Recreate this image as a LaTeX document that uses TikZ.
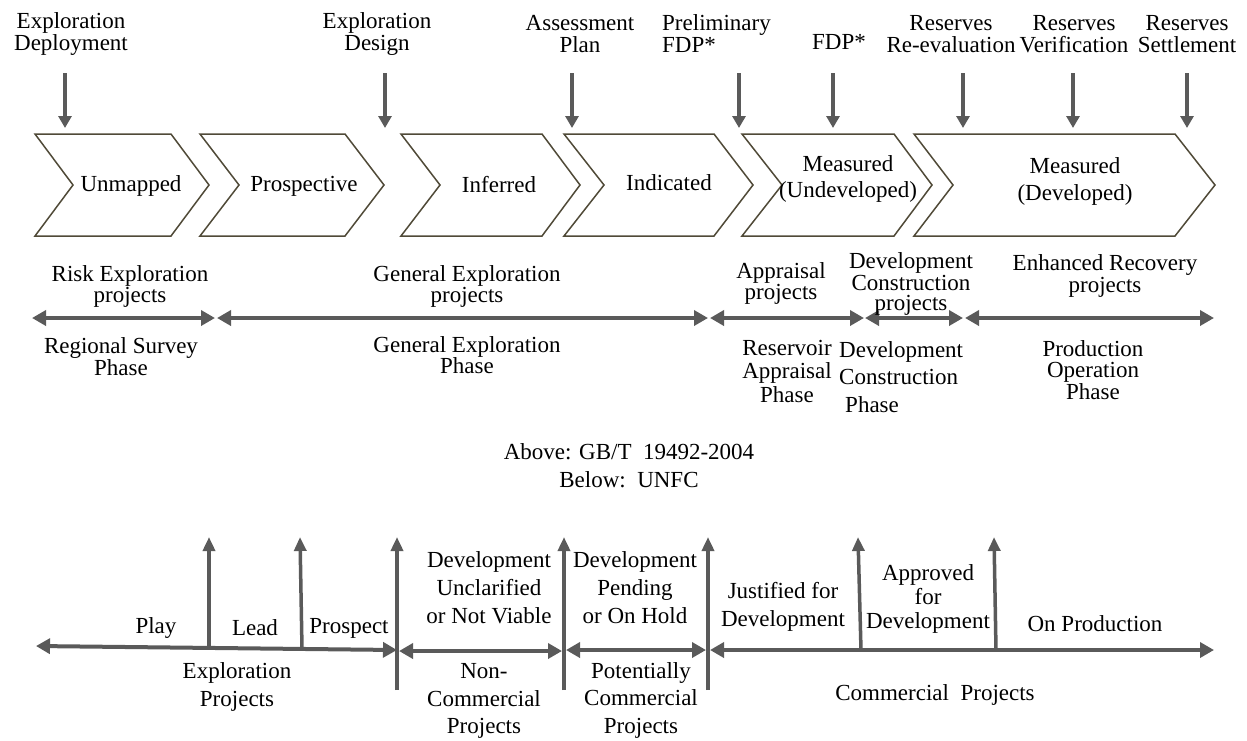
\documentclass[tikz,border=0pt]{standalone}
\usepackage{fontspec}
\setmainfont{Liberation Serif}
\usetikzlibrary{arrows.meta}
\definecolor{arrgray}{RGB}{90,90,90}
\definecolor{chevcol}{RGB}{80,74,56}
\begin{document}
\begin{tikzpicture}[x=1pt,y=-1pt,
  lbl/.style={font=\fontsize{23}{#1}\selectfont, align=center, inner sep=0pt},
  lbl/.default=22,
  chev/.style={draw=chevcol, line width=1.5pt, fill=white, line join=miter},
  ptr/.style={draw=arrgray, line width=3.5pt, -{Triangle[length=12pt,width=13pt]}},
  dbl/.style={draw=arrgray, line width=4pt, {Triangle[length=14pt,width=15pt]}-{Triangle[length=14pt,width=15pt]}},
  onearr/.style={draw=arrgray, line width=4pt, -{Triangle[length=14pt,width=15pt]}},
  uparr/.style={draw=arrgray, line width=3.5pt, -{Triangle[length=14pt,width=12pt]}}
]
\useasboundingbox (0,0) rectangle (1247,740);

% ---------- top labels ----------
\node[lbl] (t1) at (71,34) {Exploration\\Deployment};
\node[lbl] (t2) at (377,34) {Exploration\\Design};
\node[lbl] (t3) at (580,34) {Assessment\\Plan};
\node[lbl, align=left, anchor=west] (t4) at (662,34) {Preliminary\\FDP*};
\node[lbl] (t5) at (839,42) {FDP*};
\node[lbl] (t6) at (951,34) {Reserves\\Re-evaluation};
\node[lbl] (t7) at (1074,34) {Reserves\\Verification};
\node[lbl] (t8) at (1187,34) {Reserves\\Settlement};

% ---------- top arrows ----------
\foreach \n/\x in {1/65,2/385,3/572,4/739,5/833,6/963,7/1073,8/1187}{
  \coordinate (as\n) at (\x,73);
  \coordinate (ae\n) at (\x,128);
}
\foreach \n in {1,...,8}{\draw[ptr] (as\n) -- (ae\n);}

% ---------- chevrons ----------
\draw[chev] (35,134) -- (171,134) -- (209,185) -- (171,236) -- (35,236) -- (73,185) -- cycle;
\draw[chev] (200,134) -- (345,134) -- (384,185) -- (345,236) -- (200,236) -- (239,185) -- cycle;
\draw[chev] (401,134) -- (542,134) -- (580,185) -- (542,236) -- (401,236) -- (440,185) -- cycle;
\draw[chev] (564,134) -- (714,134) -- (753,185) -- (714,236) -- (564,236) -- (604,185) -- cycle;
\draw[chev] (742,134) -- (894,134) -- (932,185) -- (894,236) -- (742,236) -- (782,185) -- cycle;
\draw[chev] (914,134) -- (1175,134) -- (1215,185) -- (1175,236) -- (914,236) -- (953,185) -- cycle;

\node[lbl] (c1) at (131,186) {Unmapped};
\node[lbl] (c2) at (304,186) {Prospective};
\node[lbl] (c3) at (499,185) {Inferred};
\node[lbl] (c4) at (669,183) {Indicated};
\node[lbl=26] (c5) at (848,179) {Measured\\(Undeveloped)};
\node[lbl=27] (c6) at (1075,181) {Measured\\(Developed)};

% ---------- ruler 1 ----------
\coordinate (r1a) at (32,318);
\coordinate (r1b) at (215,318);
\coordinate (r1c) at (217,318);
\coordinate (r1d) at (708,318);
\coordinate (r1e) at (710,318);
\coordinate (r1f) at (864,318);
\coordinate (r1g) at (865,318);
\coordinate (r1h) at (963,318);
\coordinate (r1i) at (965,318);
\coordinate (r1j) at (1214,318);
\draw[dbl] (r1a) -- (r1b);
\draw[dbl] (r1c) -- (r1d);
\draw[dbl] (r1e) -- (r1f);
\draw[dbl] (r1g) -- (r1h);
\draw[dbl] (r1i) -- (r1j);

\node[lbl=21] (p1) at (130,286) {Risk Exploration\\projects};
\node[lbl=21] (p2) at (467,286) {General Exploration\\projects};
\node[lbl=21] (p3) at (781,283) {Appraisal\\projects};
\node[lbl=20] (p4) at (911,284) {Development\\Construction\\projects};
\node[lbl=22] (p5) at (1105,276) {Enhanced Recovery\\projects};

\node[lbl=20] (h1) at (121,357) {Regional Survey\\Phase};
\node[lbl=21] (h2) at (467,355) {General Exploration\\Phase};
\node[lbl=23.5] (h3) at (787,371) {Reservoir\\Appraisal\\Phase};
\node[lbl=27.5, align=left, anchor=west] (h4) at (839,377) {Development\\Construction\\\hspace*{6pt}Phase};
\node[lbl=20.5] (h5) at (1093,370) {Production\\Operation\\Phase};

% ---------- middle caption ----------
\node[lbl=28] (cap) at (629,466) {Above: GB/T\ \ 19492-2004\\Below:\ \ UNFC};

% ---------- ruler 2 ----------
\coordinate (r2a) at (36,646);
\coordinate (r2b) at (397,650);
\draw[dbl] (r2a) -- (r2b);
\coordinate (u1b) at (209,648);
\coordinate (u1t) at (209,537);
\coordinate (u2b) at (302,649);
\coordinate (u2t) at (300,537);
\draw[uparr] (u1b) -- (u1t);
\draw[uparr] (u2b) -- (u2t);

\coordinate (s1b) at (397,690);
\coordinate (s1t) at (397,537);
\coordinate (s2b) at (564,690);
\coordinate (s2t) at (564,537);
\coordinate (s3b) at (708,690);
\coordinate (s3t) at (708,537);
\draw[uparr] (s1b) -- (s1t);
\draw[uparr] (s2b) -- (s2t);
\draw[uparr] (s3b) -- (s3t);

\coordinate (r2c) at (399,651);
\coordinate (r2d) at (562,651);
\coordinate (r2e) at (566,650);
\coordinate (r2f) at (706,650);
\coordinate (r2g) at (710,650);
\coordinate (r2h) at (1214,650);
\draw[dbl] (r2c) -- (r2d);
\draw[dbl] (r2e) -- (r2f);
\draw[dbl] (r2g) -- (r2h);

\coordinate (u3b) at (861,650);
\coordinate (u3t) at (858,537);
\coordinate (u4b) at (996,650);
\coordinate (u4t) at (994,537);
\draw[uparr] (u3b) -- (u3t);
\draw[uparr] (u4b) -- (u4t);

\node[lbl] (b1) at (156,628) {Play};
\node[lbl] (b2) at (255,628) {Lead};
\node[lbl] (b3) at (349,628) {Prospect};
\node[lbl=28] (b4) at (489,588) {Development\\Unclarified\\or Not Viable};
\node[lbl=28] (b5) at (635,588) {Development\\Pending\\or On Hold};
\node[lbl=28] (b6) at (783,607) {Justified for\\Development};
\node[lbl=24] (b7) at (928,599) {Approved\\for\\Development};
\node[lbl] (b8) at (1095,624) {On Production};

\node[lbl=28] (e1) at (237,687) {Exploration\\Projects};
\node[lbl=27.5] (e2) at (484,701) {Non-\\Commercial\\Projects};
\node[lbl=27.5] (e3) at (641,700) {Potentially\\Commercial\\Projects};
\node[lbl] (e4) at (935,695) {Commercial\ \ Projects};
\end{tikzpicture}
\end{document}
